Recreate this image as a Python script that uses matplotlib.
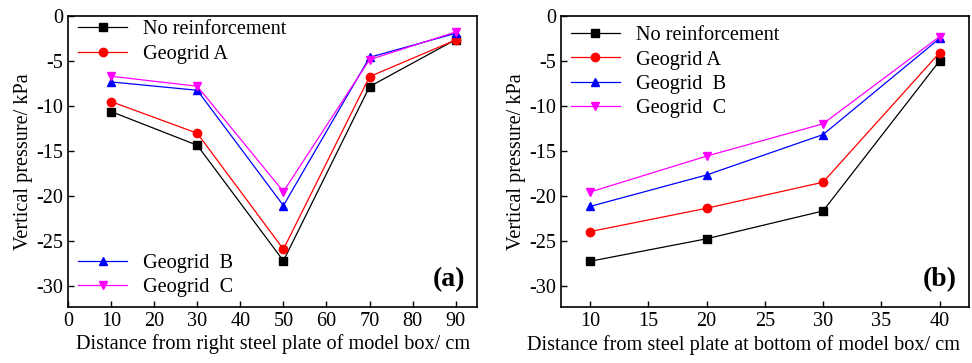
import matplotlib
matplotlib.use("Agg")
import matplotlib.pyplot as plt

plt.rcParams["font.family"] = ["Liberation Serif", "DejaVu Serif"]
plt.rcParams["font.size"] = 14.6

# panel (a)
xa = [10, 30, 50, 70, 90]
a_none = [-10.64, -14.39, -27.25, -7.86, -2.63]
a_geo_a = [-9.53, -13.05, -25.96, -6.75, -2.67]
a_geo_b = [-7.34, -8.27, -21.1, -4.6, -1.93]
a_geo_c = [-6.71, -7.82, -19.54, -4.86, -1.78]

# panel (b)
xb = [10, 20, 30, 40]
b_none = [-27.3, -24.8, -21.7, -5.0]
b_geo_a = [-24.0, -21.4, -18.5, -4.1]
b_geo_b = [-21.2, -17.7, -13.2, -2.5]
b_geo_c = [-19.6, -15.6, -12.0, -2.3]

labels = ["No reinforcement", "Geogrid A", "Geogrid  B", "Geogrid  C"]
colors = ["black", "red", "blue", "magenta"]
markers = ["s", "o", "^", "v"]

fig = plt.figure(figsize=(9.72, 3.63), dpi=100)
ax1 = fig.add_axes([0.070, 0.154, 0.421, 0.802])
ax2 = fig.add_axes([0.577, 0.154, 0.4196, 0.802])


def draw(ax, x, series):
    lines = []
    for y, lab, c, m in zip(series, labels, colors, markers):
        (ln,) = ax.plot(x, y, color=c, marker=m, markersize=6, linewidth=0.9, label=lab)
        lines.append(ln)
    ax.set_ylim(-32.4, 0)
    ax.set_yticks([0, -5, -10, -15, -20, -25, -30])
    ax.set_yticklabels(["0", "-5", "-10", "-15", "-20", "-25", "-30"])
    ax.tick_params(direction="in", length=4, width=1)
    for s in ax.spines.values():
        s.set_linewidth(1.2)
    ax.set_ylabel("Vertical pressure/ kPa", labelpad=2)
    return lines


lines_a = draw(ax1, xa, [a_none, a_geo_a, a_geo_b, a_geo_c])
ax1.set_xlim(0, 95)
ax1.set_xticks(range(0, 100, 10))
ax1.set_xlabel("Distance from right steel plate of model box/ cm", labelpad=2)
leg1 = ax1.legend(handles=lines_a[:2], loc="upper left", bbox_to_anchor=(0, 1.02),
                  frameon=False, handlelength=2.4, borderaxespad=0.1, labelspacing=0.25)
ax1.add_artist(leg1)
ax1.legend(handles=lines_a[2:], loc="lower left", frameon=False,
           handlelength=2.4, borderaxespad=0.1, labelspacing=0.25)
ax1.text(0.97, 0.05, "(a)", transform=ax1.transAxes, ha="right", va="bottom",
         fontsize=20, fontweight="bold")

lines_b = draw(ax2, xb, [b_none, b_geo_a, b_geo_b, b_geo_c])
ax2.set_xlim(7.5, 42.5)
ax2.set_xticks(range(10, 45, 5))
ax2.set_xlabel("Distance from steel plate at bottom of model box/ cm")
ax2.xaxis.set_label_coords(0.449, -0.095)
ax2.legend(handles=lines_b, loc="upper left", frameon=False,
           handlelength=2.4, borderaxespad=0.1, labelspacing=0.25)
ax2.text(0.97, 0.05, "(b)", transform=ax2.transAxes, ha="right", va="bottom",
         fontsize=20, fontweight="bold")

fig.savefig("out.png", dpi=100)
